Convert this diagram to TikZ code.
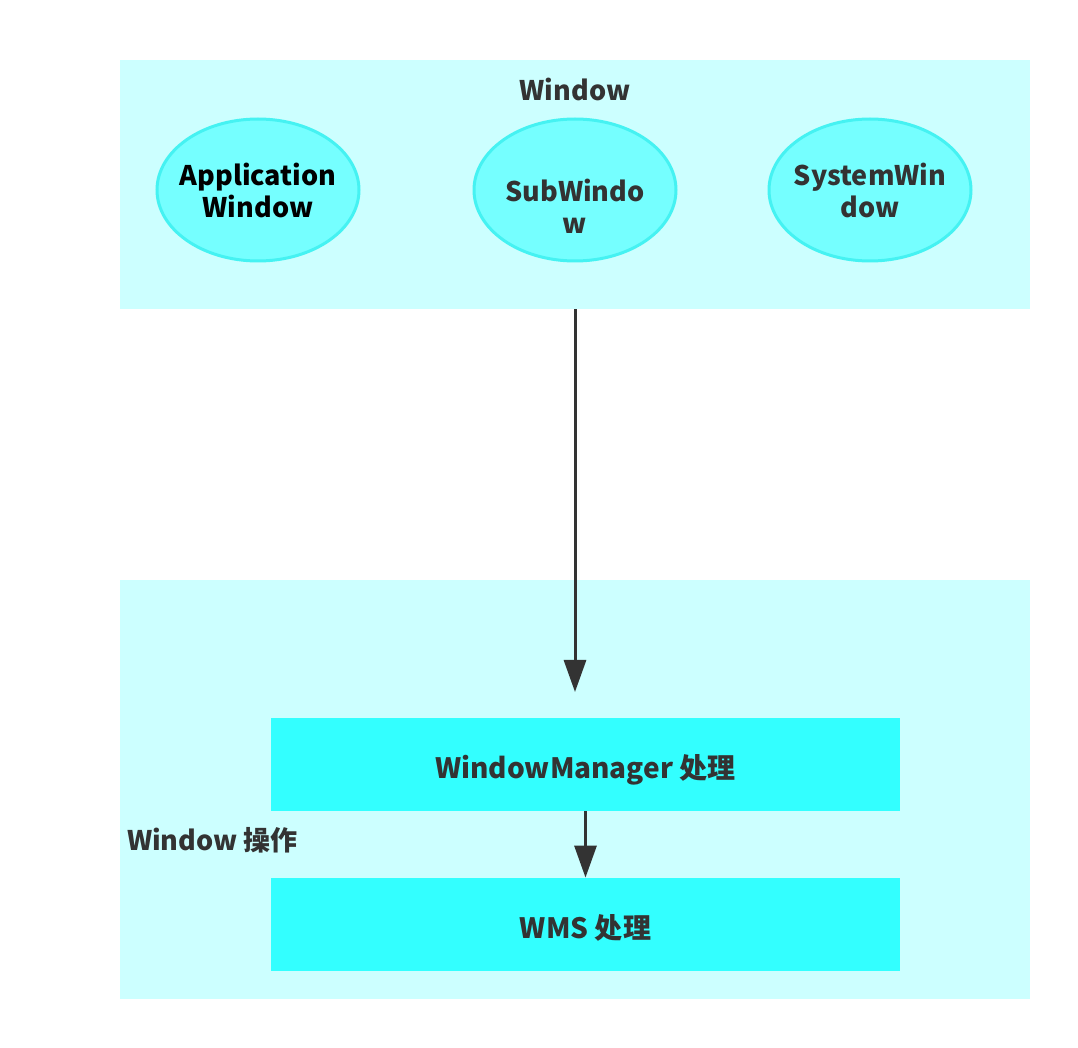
\documentclass[tikz,border=0pt]{standalone}
\usepackage{fontspec}
\setmainfont{Noto Sans CJK SC}
\usetikzlibrary{arrows.meta,shapes.geometric}
\definecolor{panel}{HTML}{CCFFFF}
\definecolor{oval}{HTML}{75FFFF}
\definecolor{ovalline}{HTML}{45F2F2}
\definecolor{bar}{HTML}{33FFFF}
\definecolor{ink}{HTML}{333333}
\tikzset{
  panelbox/.style={fill=panel, draw=none, minimum width=455pt, inner sep=0pt},
  kindoval/.style={ellipse, fill=oval, draw=ovalline, line width=1.5pt, minimum width=101pt, minimum height=71pt, inner xsep=-10pt, inner ysep=0pt, align=center, font=\bfseries\fontsize{13.5}{16}\selectfont, text=ink},
  kindtext/.style={inner sep=0pt, align=center, font=\bfseries\fontsize{13.5}{16}\selectfont, text=ink},
  stagebar/.style={fill=bar, draw=none, minimum width=314.5pt, minimum height=46.5pt, inner sep=0pt, text height=16pt, text depth=2pt, font=\bfseries\fontsize{14}{16}\selectfont, text=ink},
  flow/.style={draw=ink, line width=1.5pt, -{Triangle[length=16pt,width=11pt]}}
}
\begin{document}
\begin{tikzpicture}[x=0.5pt,y=-0.5pt]
  \useasboundingbox[fill=white] (0,0) rectangle (1078,1048);
  \node[panelbox, minimum height=124.5pt] (top) at (575,184.5) {};
  \node[panelbox, minimum height=209.5pt] (bottom) at (575,789.5) {};
  \node[font=\bfseries\fontsize{13.5}{16}\selectfont, text=ink] (title) at (575,89) {Window};
  \node[kindoval, text=black] (appwin) at (258,190) {Application\\Window};
  \node[kindoval] (subwin) at (575,190) {};
  \node[kindtext] (subtext) at (575,206) {SubWindo\\w};
  \node[kindoval] (syswin) at (870,190) {SystemWin\\dow};
  \node[stagebar] (wm) at (585.5,764.5) {WindowManager 处理};
  \node[stagebar] (wms) at (585.5,924.5) {WMS 处理};
  \node[anchor=west, font=\bfseries\fontsize{13.5}{16}\selectfont, text=ink] (ops) at (120,840) {Window 操作};
  \coordinate (entry) at (575,692);
  \draw[flow] (top.south) -- (entry);
  \draw[flow] (wm.south) -- (wms.north);
\end{tikzpicture}
\end{document}
